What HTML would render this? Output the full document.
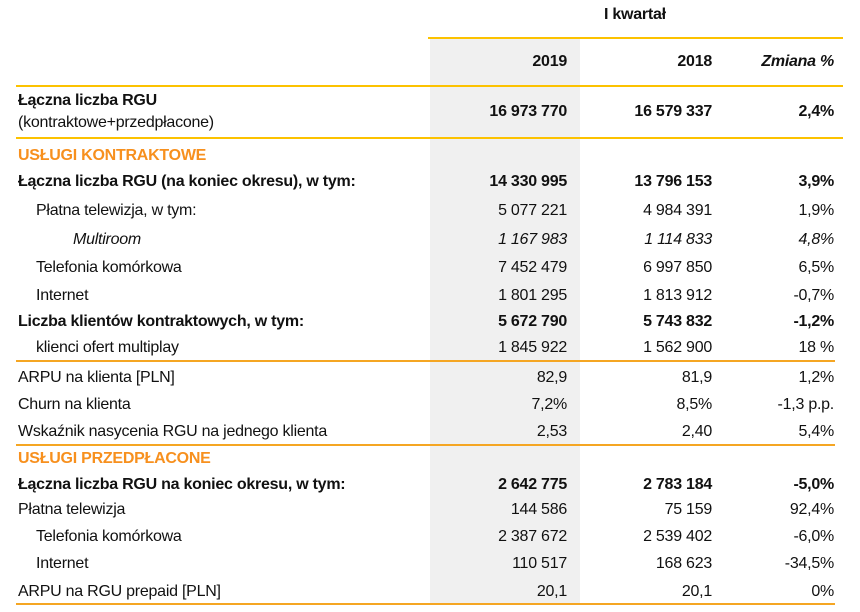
<!DOCTYPE html>
<html><head><meta charset="utf-8"><style>
body{margin:0;width:860px;height:612px;background:#fff;position:relative;overflow:hidden;font-family:"Liberation Sans",sans-serif;font-size:16px;color:#111;letter-spacing:-0.25px}
.t{position:absolute;white-space:nowrap;line-height:18px}
.l{left:18px}.i{left:36px}.m{left:73px;font-style:italic}
.a{right:293px;text-align:right}.b{right:148px;text-align:right}.c{right:26px;text-align:right}
.B{font-weight:bold}.I{font-style:italic}.o{color:#f7901e;font-weight:bold}
.h{position:absolute;height:1.5px}
</style></head><body>
<div style="position:absolute;left:430px;top:38px;width:150px;height:566px;background:#f0f0f0"></div>
<div class="h" style="left:428px;width:415px;top:37px;background:#fcc200"></div>
<div class="h" style="left:16px;width:827px;top:85px;background:#fcc200"></div>
<div class="h" style="left:16px;width:827px;top:137px;background:#fcc200"></div>
<div class="h" style="left:16px;width:819px;top:360px;background:#f5a623"></div>
<div class="h" style="left:16px;width:819px;top:444px;background:#f5a623"></div>
<div class="h" style="left:16px;width:819px;top:603px;background:#f5a623"></div>

<div class="t B" style="left:604px;top:6px">I kwartał</div>
<div class="t a B" style="top:53px">2019</div><div class="t b B" style="top:53px">2018</div><div class="t c B I" style="top:53px">Zmiana %</div>

<div class="t l B" style="top:92px">Łączna liczba RGU</div>
<div class="t l" style="top:114px">(kontraktowe+przedpłacone)</div>
<div class="t a B" style="top:103px">16 973 770</div><div class="t b B" style="top:103px">16 579 337</div><div class="t c B" style="top:103px">2,4%</div>

<div class="t l o" style="top:147px">USŁUGI KONTRAKTOWE</div>

<div class="t l B" style="top:173px">Łączna liczba RGU (na koniec okresu), w tym:</div>
<div class="t a B" style="top:173px">14 330 995</div><div class="t b B" style="top:173px">13 796 153</div><div class="t c B" style="top:173px">3,9%</div>

<div class="t i" style="top:202px">Płatna telewizja, w tym:</div>
<div class="t a" style="top:202px">5 077 221</div><div class="t b" style="top:202px">4 984 391</div><div class="t c" style="top:202px">1,9%</div>

<div class="t m" style="top:231px">Multiroom</div>
<div class="t a I" style="top:231px">1 167 983</div><div class="t b I" style="top:231px">1 114 833</div><div class="t c I" style="top:231px">4,8%</div>

<div class="t i" style="top:259px">Telefonia komórkowa</div>
<div class="t a" style="top:259px">7 452 479</div><div class="t b" style="top:259px">6 997 850</div><div class="t c" style="top:259px">6,5%</div>

<div class="t i" style="top:287px">Internet</div>
<div class="t a" style="top:287px">1 801 295</div><div class="t b" style="top:287px">1 813 912</div><div class="t c" style="top:287px">-0,7%</div>

<div class="t l B" style="top:313px">Liczba klientów kontraktowych, w tym:</div>
<div class="t a B" style="top:313px">5 672 790</div><div class="t b B" style="top:313px">5 743 832</div><div class="t c B" style="top:313px">-1,2%</div>

<div class="t i" style="top:339px">klienci ofert multiplay</div>
<div class="t a" style="top:339px">1 845 922</div><div class="t b" style="top:339px">1 562 900</div><div class="t c" style="top:339px">18 %</div>

<div class="t l" style="top:369px">ARPU na klienta [PLN]</div>
<div class="t a" style="top:369px">82,9</div><div class="t b" style="top:369px">81,9</div><div class="t c" style="top:369px">1,2%</div>

<div class="t l" style="top:396px">Churn na klienta</div>
<div class="t a" style="top:396px">7,2%</div><div class="t b" style="top:396px">8,5%</div><div class="t c" style="top:396px">-1,3 p.p.</div>

<div class="t l" style="top:423px">Wskaźnik nasycenia RGU na jednego klienta</div>
<div class="t a" style="top:423px">2,53</div><div class="t b" style="top:423px">2,40</div><div class="t c" style="top:423px">5,4%</div>

<div class="t l o" style="top:450px">USŁUGI PRZEDPŁACONE</div>

<div class="t l B" style="top:476px">Łączna liczba RGU na koniec okresu, w tym:</div>
<div class="t a B" style="top:476px">2 642 775</div><div class="t b B" style="top:476px">2 783 184</div><div class="t c B" style="top:476px">-5,0%</div>

<div class="t l" style="top:501px">Płatna telewizja</div>
<div class="t a" style="top:501px">144 586</div><div class="t b" style="top:501px">75 159</div><div class="t c" style="top:501px">92,4%</div>

<div class="t i" style="top:528px">Telefonia komórkowa</div>
<div class="t a" style="top:528px">2 387 672</div><div class="t b" style="top:528px">2 539 402</div><div class="t c" style="top:528px">-6,0%</div>

<div class="t i" style="top:555px">Internet</div>
<div class="t a" style="top:555px">110 517</div><div class="t b" style="top:555px">168 623</div><div class="t c" style="top:555px">-34,5%</div>

<div class="t l" style="top:583px">ARPU na RGU prepaid [PLN]</div>
<div class="t a" style="top:583px">20,1</div><div class="t b" style="top:583px">20,1</div><div class="t c" style="top:583px">0%</div>
</body></html>
